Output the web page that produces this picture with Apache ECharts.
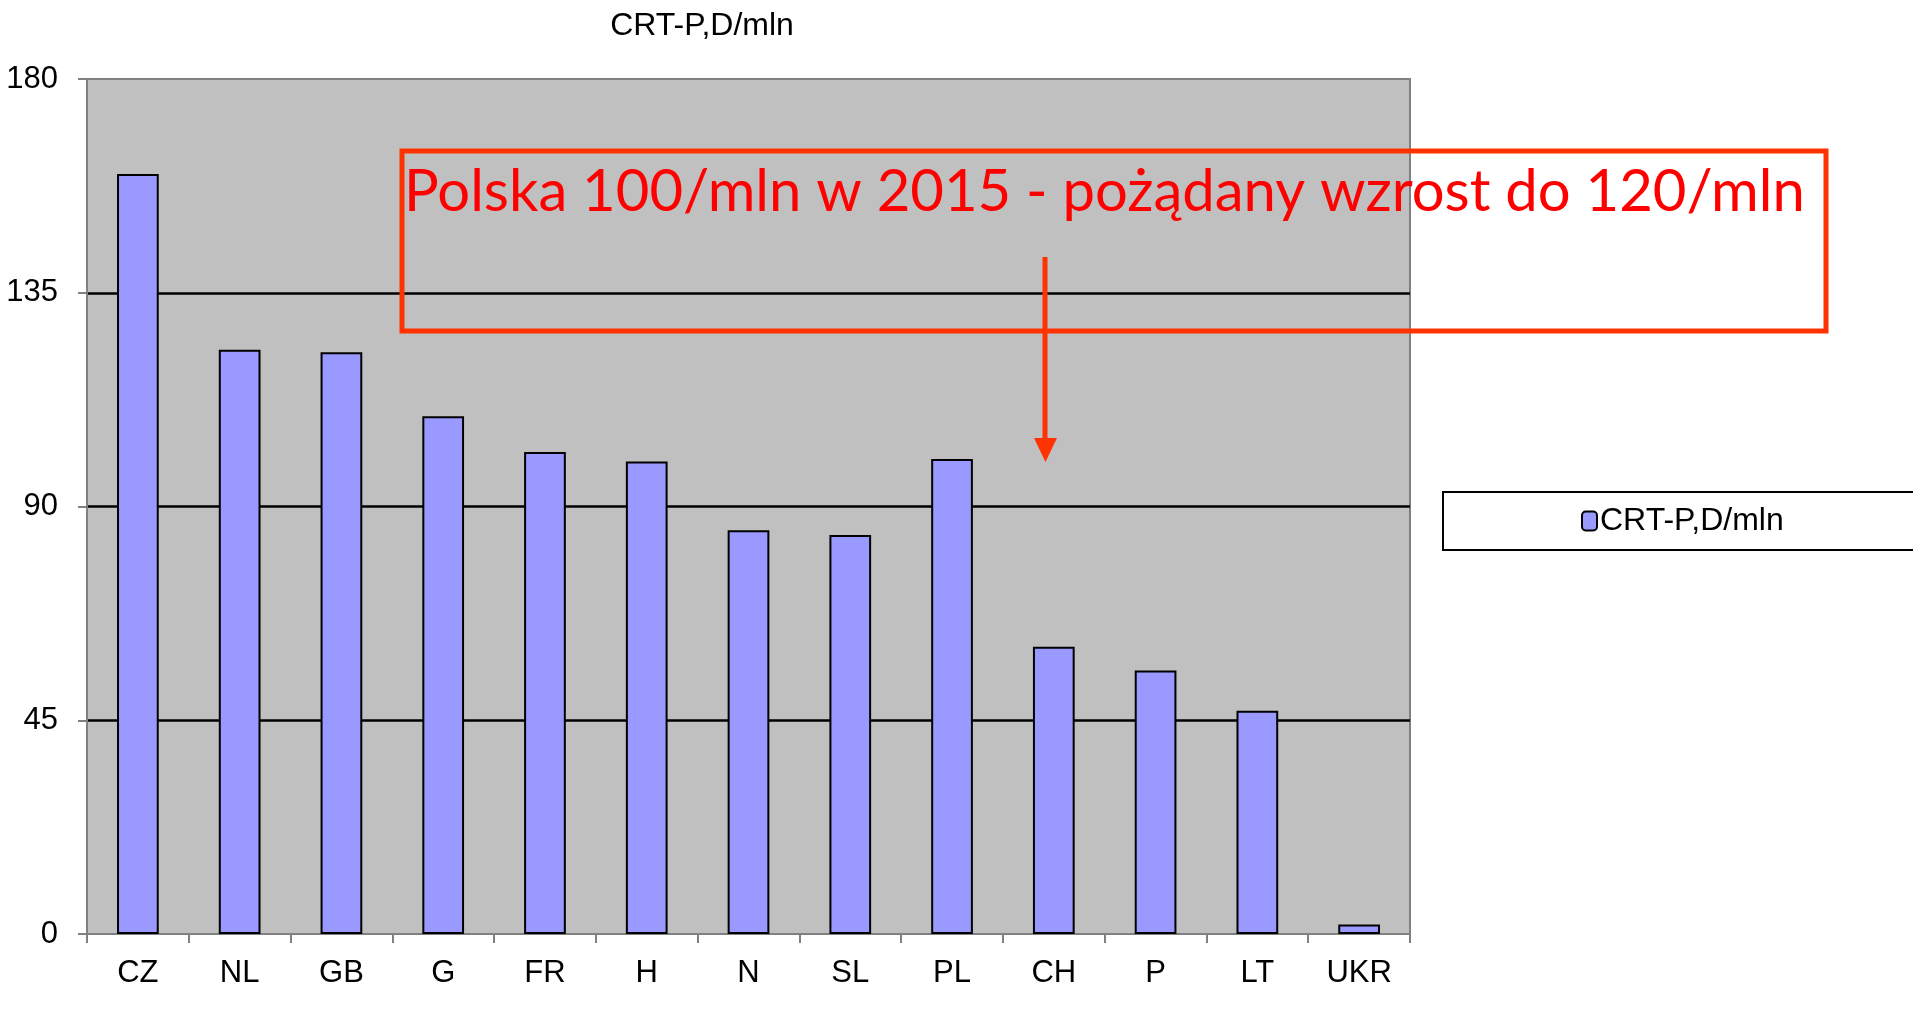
<!DOCTYPE html>
<html>
<head>
<meta charset="utf-8">
<script src="https://cdn.jsdelivr.net/npm/echarts@6/dist/echarts.min.js"></script>
<style>
  html, body { margin: 0; padding: 0; background: #fff; }
  #main { width: 1913px; height: 1012px; }
</style>
</head>
<body>
<div id="main"></div>
<script>
const countries = ['CZ', 'NL', 'GB', 'G', 'FR', 'H', 'N', 'SL', 'PL', 'CH', 'P', 'LT', 'UKR'];
const perMillion = [160, 123, 122.5, 109, 101.5, 99.5, 85, 84, 100, 60.5, 55.5, 47, 2];
const seriesName = 'CRT-P,D/mln';
const noteText = 'Polska 100/mln w 2015 - pożądany wzrost do 120/mln';

const chart = echarts.init(document.getElementById('main'));
const font = 'Liberation Sans, Arial, sans-serif';

chart.setOption({
  animation: false,
  title: {
    text: seriesName,
    left: 697,
    top: 5,
    textAlign: 'center',
    textStyle: { fontFamily: font, fontSize: 32, fontWeight: 'normal', color: '#000' }
  },
  legend: {
    data: [seriesName],
    left: 1443,
    top: 492,
    orient: 'horizontal',
    padding: [13, 260, 13, 138],
    borderColor: '#000',
    borderWidth: 2,
    itemWidth: 15,
    itemHeight: 19,
    itemGap: 6,
    textStyle: { fontFamily: font, fontSize: 32, color: '#000', padding: [0, 0, 0, -2] }
  },
  grid: {
    left: 87, right: 503, top: 79, bottom: 78,
    show: true,
    backgroundColor: '#C0C0C0',
    borderColor: '#808080',
    borderWidth: 2
  },
  xAxis: {
    type: 'category',
    data: countries,
    axisLine: { lineStyle: { color: '#808080', width: 2 } },
    axisTick: { show: true, length: 9, lineStyle: { color: '#808080', width: 2 } },
    axisLabel: { fontFamily: font, fontSize: 31, color: '#000', margin: 24 }
  },
  yAxis: {
    type: 'value',
    min: 0, max: 180, interval: 45,
    axisLine: { show: true, lineStyle: { color: '#808080', width: 2 } },
    axisTick: { show: true, length: 9, lineStyle: { color: '#808080', width: 2 } },
    axisLabel: { fontFamily: font, fontSize: 31, color: '#000', margin: 29 },
    splitLine: { show: true, showMinLine: false, showMaxLine: false, lineStyle: { color: '#000', width: 2.5 } }
  },
  series: [{
    name: seriesName,
    type: 'bar',
    data: perMillion,
    barWidth: '41%',
    itemStyle: { color: '#9999FF', borderColor: '#000', borderWidth: 2 }
  }],
  graphic: [
    {
      type: 'rect',
      shape: { x: 402, y: 151, width: 1424, height: 180 },
      style: { fill: 'none', stroke: '#FF3300', lineWidth: 5 },
      z: 100
    },
    {
      type: 'text',
      x: 404, y: 192,
      style: {
        text: noteText,
        fill: '#FF0000',
        font: '58px Lato, sans-serif',
        textVerticalAlign: 'middle'
      },
      z: 101
    },
    {
      type: 'line',
      shape: { x1: 1045, y1: 257, x2: 1045, y2: 442 },
      style: { stroke: '#FF3300', lineWidth: 5 },
      z: 100
    },
    {
      type: 'polygon',
      shape: { points: [[1034, 438], [1057, 438], [1045.5, 462]] },
      style: { fill: '#FF3300' },
      z: 100
    }
  ]
});
</script>
</body>
</html>
